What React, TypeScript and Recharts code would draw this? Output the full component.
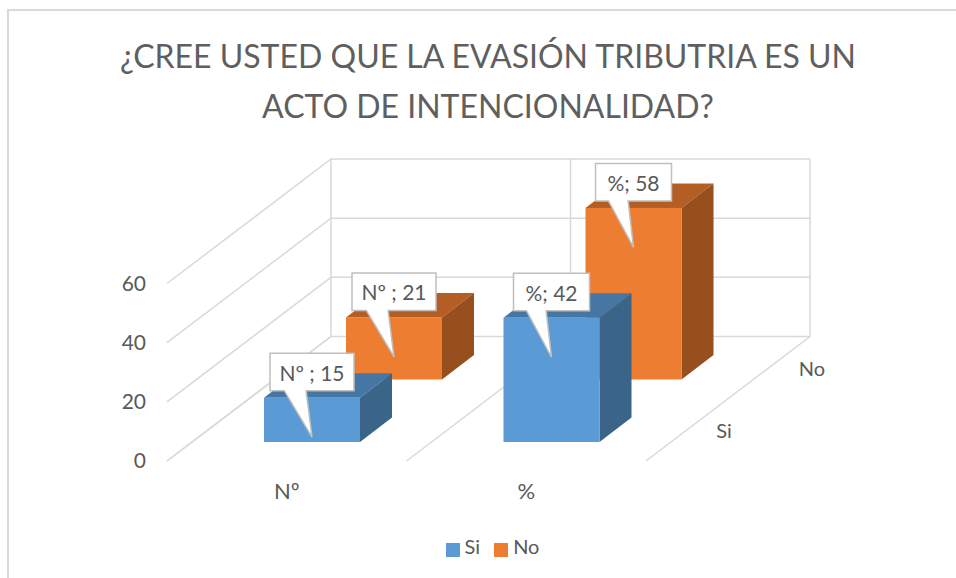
import { Bar, BarChart, CartesianGrid, LabelList, Legend, XAxis, YAxis } from "recharts";

const categories = ["Nº ", "%"];
const siValues = [15, 42];
const noValues = [21, 58];
const yTicks = [0, 20, 40, 60];
const titleLines = [
  "¿CREE USTED QUE LA EVASIÓN TRIBUTRIA ES UN",
  "ACTO DE INTENCIONALIDAD?",
];

const data = categories.map((name, i) => ({
  name,
  Si: siValues[i],
  No: noValues[i],
}));

const FONT = "Lato, 'Open Sans', sans-serif";
const TEXT = "#595959";
const GRID = "#d9d9d9";

// the side wall runs this far back and up
const WALL_DX = 164;
const WALL_DY = 124.5;
// depth of one box
const BOX_DX = 32;
const BOX_DY = 24.5;
// floor offset of each row of boxes
const SI_ROW = { dx: 25, dy: 19 };
const NO_ROW = { dx: 107, dy: 81.5 };

const SI_COLORS = { front: "#5b9bd5", top: "#4676a3", side: "#3a6589" };
const NO_COLORS = { front: "#ed7d31", top: "#b55e24", side: "#974f1e" };

function boxShape(row: { dx: number; dy: number }, colors: typeof SI_COLORS) {
  return (props: any) => {
    const x = props.x + row.dx;
    const y = props.y - row.dy;
    const { width, height } = props;
    const r = x + width;
    const b = y + height;
    return (
      <g>
        <polygon
          points={`${x},${y} ${x + BOX_DX},${y - BOX_DY} ${r + BOX_DX},${y - BOX_DY} ${r},${y}`}
          fill={colors.top}
        />
        <polygon
          points={`${r},${y} ${r + BOX_DX},${y - BOX_DY} ${r + BOX_DX},${b - BOX_DY} ${r},${b}`}
          fill={colors.side}
        />
        <rect x={x} y={y} width={width} height={height} fill={colors.front} />
      </g>
    );
  };
}

function callout(row: { dx: number; dy: number }) {
  return (props: any) => {
    const { x, y, width, value, index } = props;
    const text = `${categories[index]}; ${value}`;
    const boxW = index === 0 ? 84 : 76;
    const cx = x + row.dx + width / 2;
    const tipY = y - row.dy + 39.5;
    const top = tipY - 84;
    const bottom = top + 37.5;
    const left = cx - boxW / 2;
    const right = cx + boxW / 2;
    const d = [
      `M${left},${top}`,
      `H${right}`,
      `V${bottom}`,
      `H${left + boxW * 0.43}`,
      `L${cx},${tipY}`,
      `L${left + boxW * 0.17},${bottom}`,
      `H${left}`,
      "Z",
    ].join(" ");
    return (
      <g>
        <path d={d} fill="#fff" stroke="#bfbfbf" strokeWidth={1.5} />
        <text
          x={cx}
          y={top + 19}
          textAnchor="middle"
          dominantBaseline="central"
          fontFamily={FONT}
          fontSize={21}
          fill="#595959"
        >
          {text}
        </text>
      </g>
    );
  };
}

function wallLine(props: any) {
  const { x1, y1, x2, key } = props;
  return (
    <polyline
      key={key}
      points={`${x1},${y1} ${x1 + WALL_DX},${y1 - WALL_DY} ${x2 + WALL_DX},${y1 - WALL_DY}`}
      fill="none"
      stroke={GRID}
      strokeWidth={1.5}
    />
  );
}

function floorLine(props: any) {
  const { x1, y1, y2, key } = props;
  return (
    <polyline
      key={key}
      points={`${x1},${y2} ${x1 + WALL_DX},${y2 - WALL_DY} ${x1 + WALL_DX},${y1 - WALL_DY}`}
      fill="none"
      stroke={GRID}
      strokeWidth={1.5}
    />
  );
}

export default function App() {
  return (
    <div
      style={{
        position: "absolute",
        left: 0,
        top: 0,
        width: 956,
        height: 578,
        overflow: "hidden",
        background: "#fff",
      }}
    >
      <div
        style={{
          position: "absolute",
          left: 7,
          top: 9,
          width: 1000,
          height: 600,
          borderLeft: "2px solid #d9d9d9",
          borderTop: "2px solid #d9d9d9",
        }}
      />
      <div style={{ position: "absolute", left: 0, top: 0 }}>
        <BarChart
          width={956}
          height={578}
          data={data}
          barSize={96}
          margin={{ top: 283.5, right: 310, bottom: 77, left: 107 }}
        >
          <CartesianGrid
            xAxisId="front"
            horizontal={wallLine}
            vertical={floorLine}
            verticalPoints={[167, 406.5, 646]}
          />
          <XAxis
            xAxisId="front"
            dataKey="name"
            height={40}
            axisLine={false}
            tickLine={false}
            tickMargin={16}
            tick={{ fill: TEXT, fontSize: 22, fontFamily: FONT }}
          />
          <XAxis xAxisId="back" dataKey="name" height={0} hide />
          <YAxis
            width={60}
            domain={[0, 60]}
            ticks={yTicks}
            axisLine={false}
            tickLine={false}
            tickMargin={15}
            tick={{ fill: TEXT, fontSize: 21, fontFamily: FONT }}
          />
          <Bar
            xAxisId="back"
            dataKey="No"
            legendType="square"
            fill={NO_COLORS.front}
            shape={boxShape(NO_ROW, NO_COLORS)}
            isAnimationActive={false}
          >
            <LabelList dataKey="No" content={callout(NO_ROW)} />
          </Bar>
          <Bar
            xAxisId="front"
            dataKey="Si"
            legendType="square"
            fill={SI_COLORS.front}
            shape={boxShape(SI_ROW, SI_COLORS)}
            isAnimationActive={false}
          >
            <LabelList dataKey="Si" content={callout(SI_ROW)} />
          </Bar>
          <Legend
            layout="horizontal"
            align="center"
            verticalAlign="middle"
            iconType="square"
            iconSize={14}
            itemSorter={(item: any) => (item.value === "Si" ? 0 : 1)}
            formatter={(value: string) => (
              <span style={{ color: TEXT, fontSize: 20, fontFamily: FONT, marginLeft: 1, marginRight: 4 }}>
                {value}
              </span>
            )}
            wrapperStyle={{ left: 399.5, top: 534, width: 200 }}
          />
          {titleLines.map((line, i) => (
            <text
              key={line}
              x={488}
              y={55 + i * 50}
              textAnchor="middle"
              dominantBaseline="central"
              fontFamily={FONT}
              fontSize={32}
              fill="#5f5f5f"
            >
              {line}
            </text>
          ))}
          <text x={724} y={430} textAnchor="middle" dominantBaseline="central" fontFamily={FONT} fontSize={20} fill={TEXT}>
            Si
          </text>
          <text x={812} y={368} textAnchor="middle" dominantBaseline="central" fontFamily={FONT} fontSize={20} fill={TEXT}>
            No
          </text>
        </BarChart>
      </div>
    </div>
  );
}
